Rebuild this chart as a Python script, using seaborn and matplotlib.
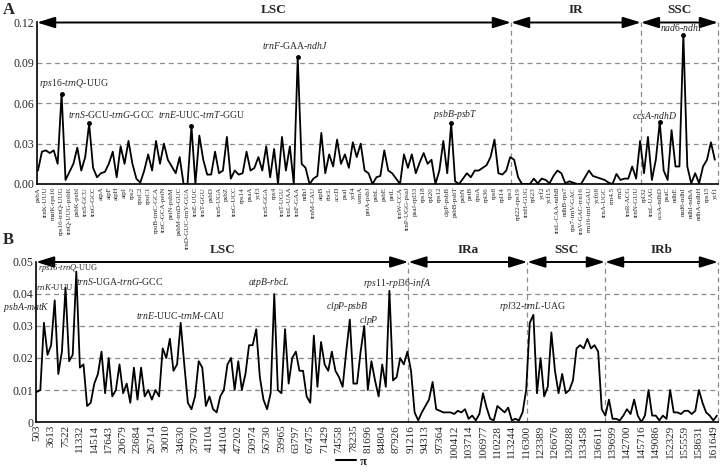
# Nucleotide diversity (pi) along the chloroplast genome - two panels

import numpy as np
import matplotlib
matplotlib.use("Agg")
import matplotlib.pyplot as plt
import seaborn as sns
from matplotlib.lines import Line2D


# -------------------------------------------------------
# 1. Data
# -------------------------------------------------------

# panel A: one label for every second window
a_labels = [
    "psbA", "trnK-UUU", "matK-rps16", "rps16-trnQ-UUG", "trnQ-UUG-psbK",
    "psbK-psbI", "trnS-GCU", "trnG-GCC", "atpA", "atpF", "atpH", "atpI",
    "rps2", "rpoC2", "rpoC1", "rpoB-trnC-GCA", "trnC-GCA-petN", "petN-psbM",
    "psbM-trnD-GUC", "trnD-GUC-trnY-GUA", "trnE-UUC", "trnT-GGU", "psbD",
    "trnS-UGA", "psbZ", "trnG-UCC", "rps14", "psaA", "ycf3", "trnS-GGA",
    "rps4", "trnT-UGU", "trnL-UAA", "trnF-GAA", "ndhJ", "trnM-CAU", "atpB",
    "rbcL", "accD", "psaI", "ycf4", "cemA", "petA-psbJ", "psbL", "psbE",
    "petL", "trnW-CCA", "trnP-UGG-psaJ", "psaJ-rpl33", "rps18", "rpl20",
    "rps12", "clpP-psbB", "psbB-psbT", "psbN", "petB", "rpoA", "rpl36",
    "rps8", "rpl14", "rps3", "rpl22-rps19", "trnH-GUG", "rpl23", "ycf2",
    "ycf15", "trnL-CAA-ndhB", "ndhB-rps7", "rps7-trnV-GAC", "trnV-GAC-rrn16",
    "rrn16-trnI-GAU", "ycf68", "trnA-UGC", "rrn4.5", "rrn5", "trnR-ACG",
    "trnN-GUU", "rpl32", "trnL-UAG", "ccsA-ndhD", "psaC", "ndhE", "nad6-ndhI",
    "ndhI-ndhA", "ndhA-ndhH", "rps15", "ycf1",
]

a_pi = [
    0.010, 0.024, 0.025, 0.023, 0.025, 0.015, 0.067, 0.003, 0.009, 0.015,
    0.027, 0.010, 0.020, 0.045, 0.012, 0.005, 0.008, 0.009, 0.015, 0.024,
    0.005, 0.028, 0.015, 0.032, 0.015, 0.004, 0.001, 0.010, 0.022, 0.010,
    0.032, 0.015, 0.030, 0.018, 0.013, 0.008, 0.020, 0.000, 0.000, 0.043,
    0.000, 0.036, 0.018, 0.007, 0.007, 0.024, 0.008, 0.010, 0.035, 0.004,
    0.010, 0.007, 0.008, 0.024, 0.010, 0.012, 0.020, 0.010, 0.028, 0.005,
    0.026, 0.000, 0.035, 0.010, 0.028, 0.000, 0.094, 0.015, 0.012, 0.000,
    0.004, 0.006, 0.038, 0.008, 0.022, 0.013, 0.033, 0.015, 0.022, 0.012,
    0.031, 0.020, 0.030, 0.010, 0.008, 0.000, 0.005, 0.006, 0.025, 0.010,
    0.008, 0.004, 0.000, 0.022, 0.012, 0.022, 0.008, 0.016, 0.023, 0.015,
    0.018, 0.000, 0.010, 0.032, 0.008, 0.045, 0.002, 0.000, 0.004, 0.008,
    0.005, 0.010, 0.010, 0.012, 0.014, 0.020, 0.033, 0.008, 0.007, 0.010,
    0.020, 0.018, 0.005, 0.000, 0.000, 0.000, 0.004, 0.0005, 0.004, 0.003,
    0.0005, 0.006, 0.010, 0.008, 0.0005, 0.002, 0.001, 0.000, 0.000, 0.005,
    0.010, 0.006, 0.005, 0.004, 0.003, 0.001, 0.000, 0.0075, 0.003, 0.004,
    0.004, 0.013, 0.004, 0.032, 0.008, 0.035, 0.003, 0.018, 0.046, 0.010,
    0.003, 0.040, 0.013, 0.013, 0.111, 0.013, 0.0005, 0.008, 0.0005, 0.013,
    0.018, 0.031, 0.018,
]

a_regions = ["LSC", "IR", "SSC"]
a_edges = [-0.25, 120.2, 153.2, 172.8]

# highlighted peaks in panel A: window index and label
a_peaks = [6, 13, 39, 66, 105, 158, 164]
a_peak_names = [
    r"$\mathit{rps16}$-$\mathit{trnQ}$-UUG",
    r"$\mathit{trnS}$-GCU-$\mathit{trnG}$-GCC",
    r"$\mathit{trnE}$-UUC-$\mathit{trnT}$-GGU",
    r"$\mathit{trnF}$-GAA-$\mathit{ndhJ}$",
    r"$\mathit{psbB}$-$\mathit{psbT}$",
    r"$\mathit{ccsA}$-$\mathit{ndhD}$",
    r"$\mathit{nad6}$-$\mathit{ndhI}$",
]

# panel B: sliding window, one label for every fourth window
b_labels = [
    "503", "3613", "7522", "11332", "14514", "17643", "20679", "23684",
    "26714", "30010", "34630", "37970", "41104", "44104", "47202", "50974",
    "56730", "59965", "63797", "67475", "71429", "74558", "78235", "81696",
    "84804", "87926", "91216", "94313", "97364", "100412", "103714",
    "106977", "110228", "113244", "116300", "123389", "126676", "130288",
    "133458", "136611", "139699", "142700", "145716", "149086", "152329",
    "155559", "158631", "161649",
]

b_pi = [
    0.0094, 0.010, 0.031, 0.021, 0.024, 0.038, 0.015, 0.022, 0.042, 0.019,
    0.021, 0.047, 0.017, 0.018, 0.005, 0.006, 0.012, 0.015, 0.022, 0.009,
    0.020, 0.008, 0.010, 0.018, 0.009, 0.012, 0.006, 0.017, 0.007, 0.017,
    0.008, 0.010, 0.007, 0.010, 0.008, 0.023, 0.020, 0.026, 0.016, 0.018,
    0.031, 0.018, 0.006, 0.004, 0.008, 0.019, 0.017, 0.005, 0.008, 0.004,
    0.003, 0.008, 0.010, 0.018, 0.020, 0.010, 0.019, 0.010, 0.015, 0.024,
    0.024, 0.029, 0.014, 0.007, 0.004, 0.009, 0.040, 0.010, 0.009, 0.029,
    0.012, 0.020, 0.022, 0.016, 0.016, 0.008, 0.006, 0.027, 0.011, 0.025,
    0.018, 0.016, 0.022, 0.016, 0.014, 0.011, 0.022, 0.032, 0.012, 0.012,
    0.022, 0.030, 0.010, 0.019, 0.013, 0.008, 0.018, 0.011, 0.041, 0.013,
    0.014, 0.020, 0.018, 0.022, 0.016, 0.003, 0.0005, 0.003, 0.005, 0.007,
    0.0125, 0.004, 0.0035, 0.003, 0.003, 0.003, 0.0025, 0.0035, 0.003, 0.004,
    0.001, 0.002, 0.0005, 0.0025, 0.009, 0.0045, 0.001, 0.0005, 0.005, 0.004,
    0.003, 0.0045, 0.0005, 0.001, 0.0005, 0.003, 0.010, 0.031, 0.0335, 0.009,
    0.020, 0.008, 0.011, 0.028, 0.016, 0.009, 0.015, 0.009, 0.010, 0.013,
    0.023, 0.024, 0.023, 0.026, 0.023, 0.024, 0.022, 0.004, 0.002, 0.007,
    0.001, 0.001, 0.0005, 0.002, 0.004, 0.0025, 0.007, 0.002, 0.000, 0.002,
    0.010, 0.002, 0.002, 0.0005, 0.002, 0.001, 0.010, 0.003, 0.003, 0.0025,
    0.0035, 0.0035, 0.0025, 0.0035, 0.010, 0.006, 0.003, 0.002, 0.0005, 0.002,
]

b_regions = ["LSC", "IRa", "SSC", "IRb"]
b_edges = [-0.2, 103.25, 136.3, 157.9, 189.3]

b_peak_names = [
    r"$\mathit{rps16}$-$\mathit{trnQ}$-UUG",
    r"$\mathit{trnK}$-UUU",
    r"$\mathit{psbA}$-$\mathit{matK}$",
    r"$\mathit{trnS}$-UGA-$\mathit{trnG}$-GCC",
    r"$\mathit{trnE}$-UUC-$\mathit{trnM}$-CAU",
    r"$\mathit{atpB}$-$\mathit{rbcL}$",
    r"$\mathit{clpP}$-$\mathit{psbB}$",
    r"$\mathit{clpP}$",
    r"$\mathit{rps11}$-$\mathit{rpl36}$-$\mathit{infA}$",
    r"$\mathit{rpl32}$-$\mathit{trnL}$-UAG",
]


# -------------------------------------------------------
# 2. Style
# -------------------------------------------------------

sns.set_theme(style="white")
plt.rcParams["font.family"] = ["Liberation Serif", "DejaVu Serif"]
plt.rcParams["mathtext.fontset"] = "custom"
plt.rcParams["mathtext.it"] = "Liberation Serif:italic"
plt.rcParams["mathtext.rm"] = "Liberation Serif"
plt.rcParams["mathtext.bf"] = "Liberation Serif:bold"

fig = plt.figure(figsize=(7.25, 4.73), dpi=100)
ax_a = fig.add_axes([37 / 725, 1 - 184 / 473, 681 / 725, 161.5 / 473])
ax_b = fig.add_axes([36 / 725, 1 - 422 / 473, 682 / 725, 160 / 473])


def draw_panel(ax, values, labels, step, edges, regions, ymax, yticks,
               yfmt, xfont):
    x = np.arange(len(values))
    sns.lineplot(x=x, y=values, ax=ax, color="black", lw=1.3)

    ax.set_xlim(edges[0], edges[-1])
    ax.set_ylim(0, ymax)
    ax.set_xticks(np.arange(len(labels)) * step)
    ax.set_xticklabels(labels, rotation=90, fontsize=xfont)
    ax.set_yticks(yticks)
    ax.set_yticklabels([yfmt(t) for t in yticks], fontsize=8.5)
    ax.tick_params(length=0, pad=2)
    ax.set_xlabel("")
    ax.set_ylabel("")

    for t in yticks[1:-1]:
        ax.axhline(t, color="#8c8c8c", lw=0.9, ls=(0, (4, 3)), zorder=0)
    for e in edges[1:]:
        ax.plot([e, e], [0, ymax], color="#8c8c8c", lw=0.9,
                ls=(0, (4, 3)), zorder=0, clip_on=False)

    for side in ["top", "right"]:
        ax.spines[side].set_visible(False)
    for side in ["left", "bottom"]:
        ax.spines[side].set_color("black")
        ax.spines[side].set_linewidth(1.2)

    # region arrows along the top
    for name, lo, hi in zip(regions, edges[:-1], edges[1:]):
        ax.annotate("", xy=(lo, ymax), xytext=(hi, ymax),
                    xycoords="data", annotation_clip=False,
                    arrowprops=dict(arrowstyle="<|-|>,head_length=0.9,head_width=0.28",
                                    color="black", lw=1.4, shrinkA=0, shrinkB=0))
        ax.annotate(name, xy=((lo + hi) / 2, ymax), xytext=(0, 4.5),
                    textcoords="offset points", ha="center", va="bottom",
                    fontsize=9.5, fontweight="bold", annotation_clip=False)


# -------------------------------------------------------
# 3. Panel A
# -------------------------------------------------------

draw_panel(ax_a, a_pi, a_labels, 2, a_edges, a_regions, 0.12,
           [0, 0.03, 0.06, 0.09, 0.12], lambda t: f"{t:.2f}", 5)

a_text_pos = [(9.2, 0.0745), (18.6, 0.0514), (41.7, 0.0514), (65.3, 0.1027),
              (106.2, 0.0514), (156.8, 0.0506), (163.4, 0.116)]
for idx, name, (tx, ty) in zip(a_peaks, a_peak_names, a_text_pos):
    ax_a.plot(idx, a_pi[idx], marker="o", ms=2.5, color="black")
    ax_a.text(tx, ty, name, ha="center", va="center", fontsize=7)

fig.text(0.004, 0.978, "A", fontsize=12, fontweight="bold", va="center")


# -------------------------------------------------------
# 4. Panel B
# -------------------------------------------------------

draw_panel(ax_b, b_pi, b_labels, 4, b_edges, b_regions, 0.05,
           [0, 0.01, 0.02, 0.03, 0.04, 0.05],
           lambda t: "0" if t == 0 else f"{t:.2f}", 8)

# first two labels are squeezed next to the y tick labels
b_text_pos = [(0.4, 0.0482, "left", 6), (-0.8, 0.0422, "left", 6.3),
              (-2.8, 0.0357, "center", 7), (23, 0.0438, "center", 7),
              (40, 0.0332, "center", 7), (64.4, 0.0435, "center", 7),
              (86.4, 0.036, "center", 7), (92.2, 0.0316, "center", 7),
              (100, 0.0435, "center", 7), (137.8, 0.036, "center", 7)]
for name, (tx, ty, ha, fs) in zip(b_peak_names, b_text_pos):
    ax_b.text(tx, ty, name, ha=ha, va="center", fontsize=fs, clip_on=False)

fig.text(0.004, 0.493, "B", fontsize=12, fontweight="bold", va="center")

fig.legend(handles=[Line2D([], [], color="black", lw=1.5)], labels=["π"],
           loc="center", bbox_to_anchor=(0.485, 0.024), frameon=False,
           handlelength=1.6, handletextpad=0.3,
           prop={"weight": "bold", "size": 9})

fig.savefig("out.png", dpi=100)
